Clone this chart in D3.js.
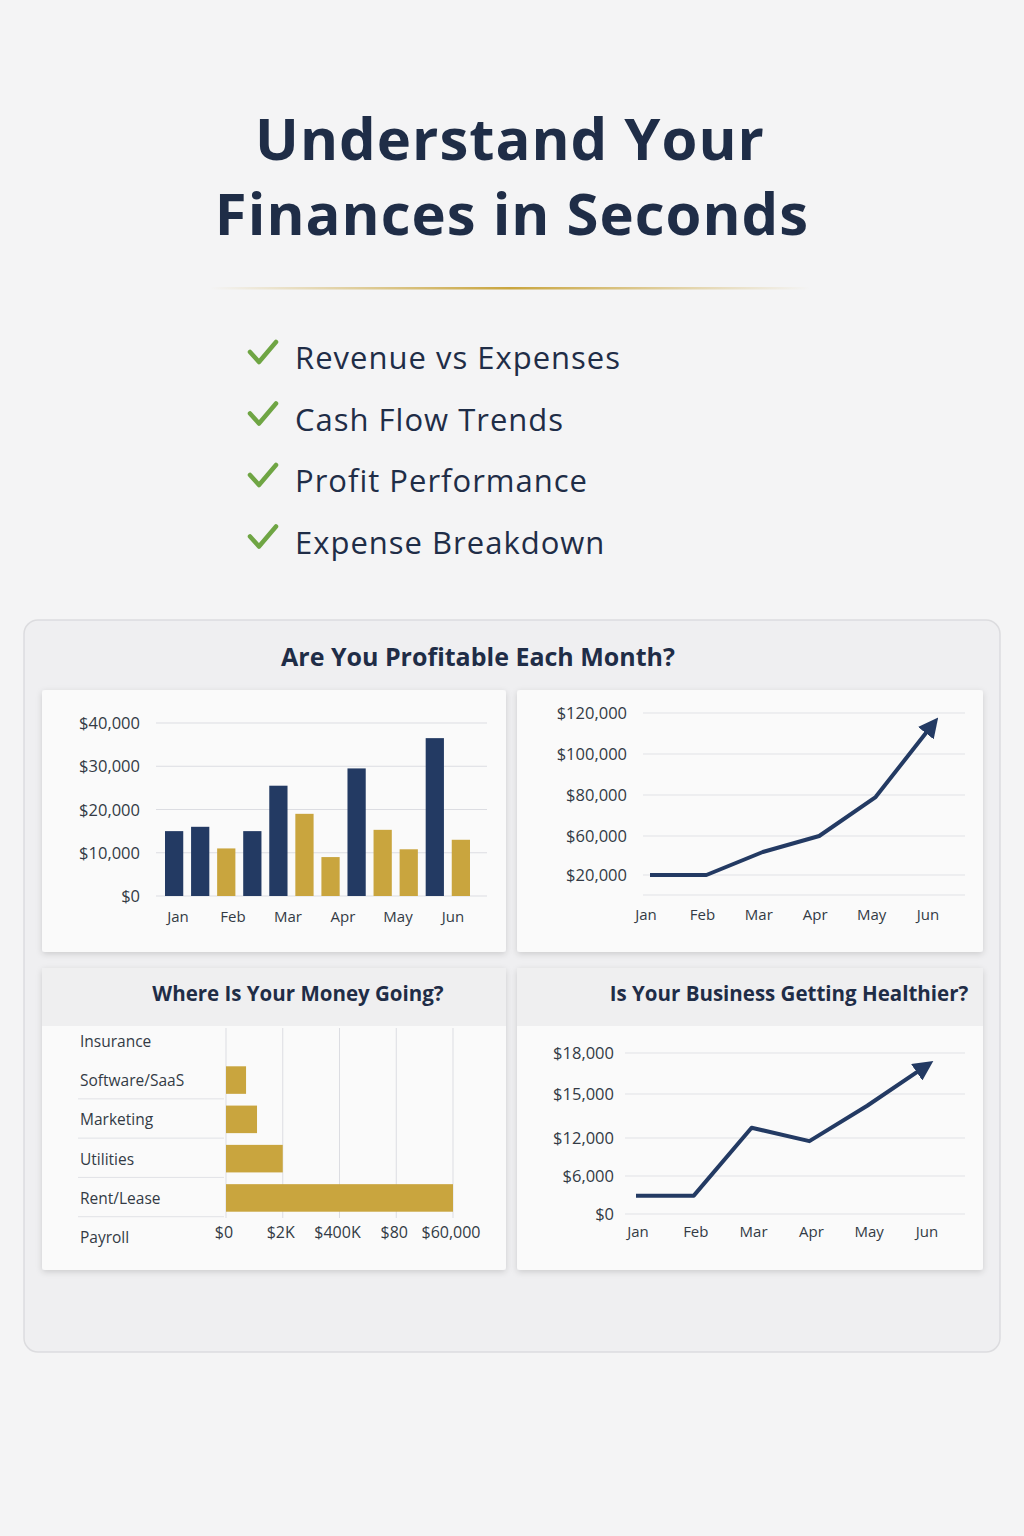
<!DOCTYPE html>
<html><head><meta charset="utf-8">
<script src="https://cdn.jsdelivr.net/npm/d3@7"></script>
<style>body{margin:0;background:#f4f4f5}svg{display:block}</style>
</head><body>
<svg id="c" width="1024" height="1536"></svg>
<script>
var months = ["Jan","Feb","Mar","Apr","May","Jun"]
var checklist = ["Revenue vs Expenses","Cash Flow Trends","Profit Performance","Expense Breakdown"]
// 12 bars, two per month
var barValues = [15000,16000,11000,15000,25500,19000,9000,29500,15300,10800,36500,13000]
var barColors = ["n","n","g","n","n","g","g","n","g","g","n","g"]
var barTicks = [0,10000,20000,30000,40000]
var cashValues = [20000,20000,43600,60000,79000,114000]
var cashTicks = [20000,60000,80000,100000,120000]
var expenseCats = ["Insurance","Software/SaaS","Marketing","Utilities","Rent/Lease","Payroll"]
var expenseValues = [0,5300,8200,15000,60000,0]
var expenseTicks = [0,15000,30000,45000,60000]
var expenseTickLabels = ["$0","$2K","$400K","$80","$60,000"]
var healthValues = [2900,2900,12700,11500,14200,17000]
var healthTicks = [0,6000,12000,15000,18000]

var NAVY="#233a63", GOLD="#c9a53e", INK="#1f2d47", FONT="'Open Sans', sans-serif"
var svg = d3.select("#c")
var defs = svg.append("defs")
var g1 = defs.append("linearGradient").attr("id","gl")
g1.append("stop").attr("offset","0").attr("stop-color",GOLD).attr("stop-opacity",0)
g1.append("stop").attr("offset","0.5").attr("stop-color",GOLD)
g1.append("stop").attr("offset","1").attr("stop-color",GOLD).attr("stop-opacity",0)
var f = defs.append("filter").attr("id","sh").attr("x","-10%").attr("y","-10%").attr("width","120%").attr("height","130%")
f.append("feDropShadow").attr("dx",0).attr("dy",2).attr("stdDeviation",3).attr("flood-opacity",0.15)
var mk = defs.append("marker").attr("id","arr").attr("viewBox","0 0 10 10").attr("refX",5).attr("refY",5)
  .attr("markerWidth",5).attr("markerHeight",5).attr("orient","auto")
mk.append("path").attr("d","M0,0L10,5L0,10z").attr("fill",NAVY)

svg.append("rect").attr("width",1024).attr("height",1536).attr("fill","#f4f4f5")

var title = svg.append("text").attr("text-anchor","middle").attr("fill",INK)
  .style("font-family",FONT).style("font-weight",700).style("font-size","58px").style("letter-spacing","1px")
title.append("tspan").attr("x",510).attr("y",160).text("Understand Your")
title.append("tspan").attr("x",512).attr("y",235).text("Finances in Seconds")
svg.append("rect").attr("x",210).attr("y",287).attr("width",600).attr("height",2.5).attr("fill","url(#gl)")

checklist.forEach(function(t,i){
  var y = 358 + i*61.5
  svg.append("path").attr("d","M250,"+(y-6)+" l9,10 l17,-20").attr("fill","none")
    .attr("stroke","#6fa544").attr("stroke-width",4.5).attr("stroke-linecap","round").attr("stroke-linejoin","round")
  svg.append("text").attr("x",295).attr("y",y+11).attr("fill",INK).style("font-family",FONT)
    .style("font-size","31px").style("letter-spacing","1px").text(t)
})

svg.append("rect").attr("x",24).attr("y",620).attr("width",976).attr("height",732).attr("rx",14)
  .attr("fill","#efeff1").attr("stroke","#dcdcdf").attr("stroke-width",1.5)
svg.append("text").attr("x",478).attr("y",666).attr("text-anchor","middle").attr("fill",INK)
  .style("font-family",FONT).style("font-weight",700).style("font-size","25px").text("Are You Profitable Each Month?")

function card(x,y,w,h){
  svg.append("rect").attr("x",x).attr("y",y).attr("width",w).attr("height",h).attr("rx",3)
    .attr("fill","#fafafa").attr("filter","url(#sh)")
}
card(42,690,464,262); card(517,690,466,262); card(42,968,464,302); card(517,968,466,302)
svg.append("rect").attr("x",42).attr("y",968).attr("width",464).attr("height",58).attr("fill","#efeff0")
svg.append("rect").attr("x",517).attr("y",968).attr("width",466).attr("height",58).attr("fill","#efeff0")
svg.append("text").attr("x",298).attr("y",1001).attr("text-anchor","middle").attr("fill",INK)
  .style("font-family",FONT).style("font-weight",700).style("font-size","20.5px").text("Where Is Your Money Going?")
svg.append("text").attr("x",789).attr("y",1001).attr("text-anchor","middle").attr("fill",INK)
  .style("font-family",FONT).style("font-weight",700).style("font-size","20.5px").text("Is Your Business Getting Healthier?")

function lbl(sel,size){ sel.style("font-family",FONT).style("font-size",size).attr("fill","#333a45") }

// bar chart
var bx = d3.scaleBand().domain(d3.range(barValues.length)).range([165,470]).paddingInner(0.3)
var by = d3.scaleLinear().domain([0,40000]).range([896,723])
svg.append("g").selectAll("line").data(barTicks).join("line").attr("x1",156).attr("x2",487)
  .attr("y1",by).attr("y2",by).attr("stroke","#dcdde2")
svg.append("g").selectAll("rect").data(barValues).join("rect").attr("x",function(d,i){return bx(i)})
  .attr("width",bx.bandwidth()).attr("y",by).attr("height",function(d){return 896-by(d)})
  .attr("fill",function(d,i){return barColors[i]=="n"?NAVY:GOLD})
lbl(svg.append("g").selectAll("text").data(barTicks).join("text").attr("x",140).attr("y",function(d){return by(d)+6})
  .attr("text-anchor","end").text(function(d){return d3.format("$,")(d)}),"16.5px")
var bm = d3.scalePoint().domain(months).range([178,453])
lbl(svg.append("g").selectAll("text").data(months).join("text").attr("x",bm).attr("y",922)
  .attr("text-anchor","middle").text(function(d){return d}),"15px")

// cash flow line
var cx = d3.scalePoint().domain(months).range([650,932])
var cy = d3.scaleLinear().domain(cashTicks).range([875,836,795,754,713])
svg.append("g").selectAll("line").data(cashTicks).join("line").attr("x1",643).attr("x2",965)
  .attr("y1",cy).attr("y2",cy).attr("stroke","#e1e2e6")
svg.append("line").attr("x1",643).attr("x2",965).attr("y1",895).attr("y2",895).attr("stroke","#e1e2e6")
lbl(svg.append("g").selectAll("text").data(cashTicks).join("text").attr("x",627).attr("y",function(d){return cy(d)+6})
  .attr("text-anchor","end").text(function(d){return d3.format("$,")(d)}),"16.5px")
lbl(svg.append("g").selectAll("text").data(months).join("text").attr("x",function(d){return cx(d)-4}).attr("y",920)
  .attr("text-anchor","middle").text(function(d){return d}),"15px")
svg.append("path").datum(cashValues).attr("fill","none").attr("stroke",NAVY).attr("stroke-width",4)
  .attr("marker-end","url(#arr)").attr("stroke-linejoin","round")
  .attr("d",d3.line().x(function(d,i){return cx(months[i])}).y(cy))

// expense breakdown
var ey = d3.scaleBand().domain(expenseCats).range([1028,1250]).paddingInner(0.35)
var ex = d3.scaleLinear().domain([0,60000]).range([226,453])
svg.append("g").selectAll("line").data(expenseTicks).join("line").attr("x1",ex).attr("x2",ex)
  .attr("y1",1028).attr("y2",1218).attr("stroke","#dcdde2")
svg.append("g").selectAll("line").data(expenseCats.slice(1,5)).join("line").attr("x1",78).attr("x2",224)
  .attr("y1",function(d){return ey(d)+ey.bandwidth()+6}).attr("y2",function(d){return ey(d)+ey.bandwidth()+6})
  .attr("stroke","#e1e2e6")
svg.append("g").selectAll("rect").data(expenseValues).join("rect").attr("x",ex(0))
  .attr("y",function(d,i){return ey(expenseCats[i])-1}).attr("height",ey.bandwidth()+2)
  .attr("width",function(d){return ex(d)-ex(0)}).attr("fill",GOLD)
lbl(svg.append("g").selectAll("text").data(expenseCats).join("text").attr("x",80)
  .attr("y",function(d){return ey(d)+ey.bandwidth()/2+6}).text(function(d){return d}),"15.5px")
lbl(svg.append("g").selectAll("text").data(expenseTicks).join("text").attr("x",function(d){return ex(d)-2})
  .attr("y",1238).attr("text-anchor","middle").text(function(d,i){return expenseTickLabels[i]}),"16px")

// health line
var hx = d3.scalePoint().domain(months).range([636,925])
var hy = d3.scaleLinear().domain(healthTicks).range([1214,1176,1138,1094,1053])
svg.append("g").selectAll("line").data(healthTicks).join("line").attr("x1",625).attr("x2",965)
  .attr("y1",hy).attr("y2",hy).attr("stroke","#e1e2e6")
lbl(svg.append("g").selectAll("text").data(healthTicks).join("text").attr("x",614).attr("y",function(d){return hy(d)+6})
  .attr("text-anchor","end").text(function(d){return d3.format("$,")(d)}),"16.5px")
lbl(svg.append("g").selectAll("text").data(months).join("text").attr("x",function(d){return hx(d)+2}).attr("y",1237)
  .attr("text-anchor","middle").text(function(d){return d}),"15px")
svg.append("path").datum(healthValues).attr("fill","none").attr("stroke",NAVY).attr("stroke-width",4)
  .attr("marker-end","url(#arr)").attr("stroke-linejoin","round")
  .attr("d",d3.line().x(function(d,i){return hx(months[i])}).y(hy))
</script>
</body></html>
